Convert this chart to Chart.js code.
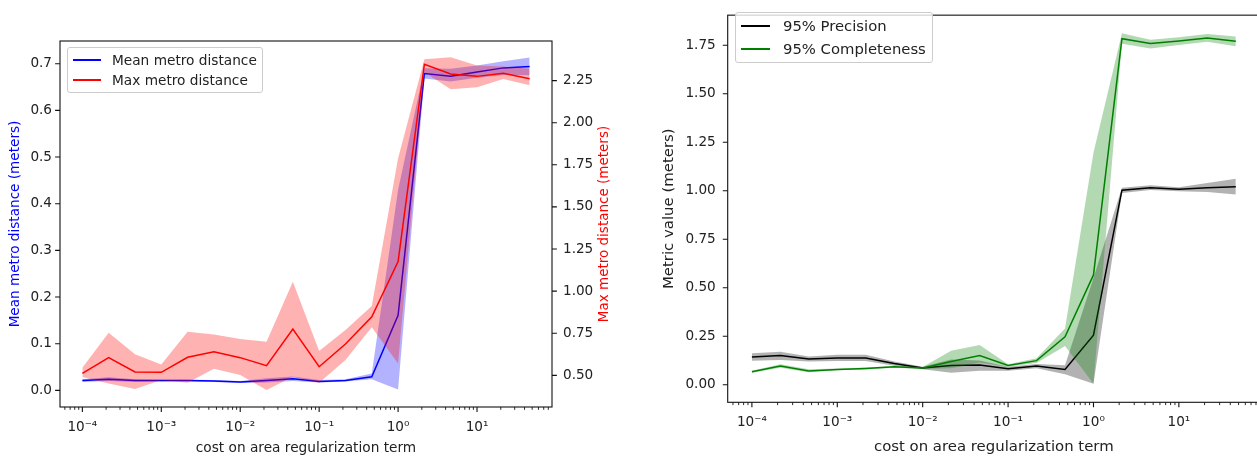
<!DOCTYPE html>
<html>
<head>
<meta charset="utf-8">
<script src="https://cdn.jsdelivr.net/npm/chart.js@4.4.1/dist/chart.umd.min.js"></script>
<style>
html, body { margin: 0; padding: 0; background: #fff; overflow: hidden; width: 1257px; height: 457px; }
canvas { position: absolute; top: 0; }
#leftChart { left: 0; }
#rightChart { left: 640px; }
.box { position: absolute; background: rgba(255,255,255,0.8); border: 1px solid #ccc; border-radius: 3px; box-sizing: border-box; }
.sw { position: absolute; height: 1.5px; }
.lab { position: absolute; white-space: nowrap; font-family: "DejaVu Sans"; color: #222; }
</style>
</head>
<body>
<canvas id="leftChart" width="640" height="457"></canvas>
<canvas id="rightChart" width="625" height="457"></canvas>

<div class="box" style="left:67px;top:47px;width:196px;height:46px"></div>
<div class="sw" style="left:73px;top:59px;width:28px;background:#0000ff"></div>
<div class="lab" style="left:112px;top:51px;font-size:13.7px;line-height:18px">Mean metro distance</div>
<div class="sw" style="left:73px;top:79px;width:28px;background:#ff0000"></div>
<div class="lab" style="left:112px;top:71px;font-size:13.7px;line-height:18px">Max metro distance</div>

<div class="box" style="left:735px;top:12px;width:198px;height:51px"></div>
<div class="sw" style="left:741px;top:25px;width:29px;background:#000000"></div>
<div class="lab" style="left:783px;top:16px;font-size:14.8px;line-height:19px">95% Precision</div>
<div class="sw" style="left:741px;top:48px;width:29px;background:#008000"></div>
<div class="lab" style="left:783px;top:39px;font-size:14.8px;line-height:19px">95% Completeness</div>

<script>
// x values: cost on area regularization term
const costs = [1e-4, 2.154e-4, 4.642e-4, 1e-3, 2.154e-3, 4.642e-3, 1e-2, 2.154e-2, 4.642e-2,
               0.1, 0.2154, 0.4642, 1, 2.154, 4.642, 10, 21.54, 46.42];

// left chart
const meanDist = [0.021, 0.024, 0.021, 0.021, 0.021, 0.020, 0.018, 0.021, 0.025, 0.019, 0.021, 0.029, 0.161, 0.679, 0.673, 0.682, 0.691, 0.694];
const meanLo   = [0.018, 0.020, 0.018, 0.019, 0.019, 0.018, 0.016, 0.017, 0.020, 0.017, 0.019, 0.024, 0.002, 0.668, 0.662, 0.670, 0.676, 0.675];
const meanHi   = [0.024, 0.028, 0.024, 0.023, 0.023, 0.022, 0.020, 0.026, 0.030, 0.022, 0.024, 0.036, 0.430, 0.690, 0.689, 0.696, 0.705, 0.713];
const maxDist  = [0.512, 0.605, 0.520, 0.518, 0.607, 0.640, 0.605, 0.557, 0.775, 0.551, 0.686, 0.848, 1.175, 2.347, 2.289, 2.275, 2.293, 2.261];
const maxLo    = [0.490, 0.452, 0.419, 0.472, 0.456, 0.539, 0.502, 0.413, 0.492, 0.456, 0.591, 0.785, 0.571, 2.300, 2.198, 2.210, 2.260, 2.222];
const maxHi    = [0.545, 0.753, 0.625, 0.565, 0.759, 0.743, 0.716, 0.700, 1.056, 0.644, 0.769, 0.911, 1.789, 2.377, 2.388, 2.340, 2.333, 2.320];

// right chart
const prec     = [0.143, 0.150, 0.133, 0.138, 0.138, 0.109, 0.086, 0.099, 0.101, 0.082, 0.096, 0.079, 0.255, 1.003, 1.016, 1.008, 1.016, 1.020];
const precLo   = [0.123, 0.128, 0.120, 0.122, 0.122, 0.098, 0.080, 0.062, 0.072, 0.072, 0.085, 0.054, 0.005, 0.988, 1.004, 0.998, 0.993, 0.981];
const precHi   = [0.162, 0.170, 0.146, 0.154, 0.154, 0.120, 0.092, 0.130, 0.125, 0.092, 0.107, 0.100, 0.550, 1.016, 1.028, 1.018, 1.040, 1.062];
const comp     = [0.067, 0.096, 0.071, 0.079, 0.084, 0.092, 0.086, 0.120, 0.151, 0.099, 0.124, 0.247, 0.566, 1.784, 1.759, 1.772, 1.788, 1.771];
const compLo   = [0.062, 0.088, 0.064, 0.074, 0.079, 0.087, 0.081, 0.085, 0.115, 0.092, 0.112, 0.200, 0.005, 1.758, 1.733, 1.752, 1.768, 1.745];
const compHi   = [0.072, 0.106, 0.080, 0.084, 0.089, 0.097, 0.091, 0.175, 0.205, 0.106, 0.136, 0.290, 1.196, 1.812, 1.778, 1.792, 1.808, 1.795];

// tick labels
const costTicks = [1e-4, 1e-3, 1e-2, 1e-1, 1, 10];
const meanTicks = [0, 0.1, 0.2, 0.3, 0.4, 0.5, 0.6, 0.7];
const maxTicks = [0.5, 0.75, 1.0, 1.25, 1.5, 1.75, 2.0, 2.25];
const metricTicks = [0, 0.25, 0.5, 0.75, 1.0, 1.25, 1.5, 1.75];

const FONT = 'DejaVu Sans';
const TXT = '#222';

const supMap = {'-': '\u207B', '0': '\u2070', '1': '\u00B9', '2': '\u00B2', '3': '\u00B3', '4': '\u2074',
                '5': '\u2075', '6': '\u2076', '7': '\u2077', '8': '\u2078', '9': '\u2079'};
function sci(v) {
    const e = Math.round(Math.log10(v));
    return '10' + String(e).split('').map(c => supMap[c]).join('');
}

const pts = (ys) => costs.map((c, i) => ({x: c, y: ys[i]}));
const hidden = (ys, axis, order) => ({data: pts(ys), yAxisID: axis, borderColor: 'transparent', borderWidth: 0, pointRadius: 0, fill: false, order: order});
const shade = (ys, axis, target, color, order) => ({data: pts(ys), yAxisID: axis, borderColor: 'transparent', borderWidth: 0, pointRadius: 0, fill: {target: target}, backgroundColor: color, order: order});
const line = (ys, axis, color, order) => ({data: pts(ys), yAxisID: axis, borderColor: color, borderWidth: 1.5, pointRadius: 0, fill: false, order: order});

// frame, tick marks and the red right-hand title (matplotlib style)
const frame = {
    id: 'frame',
    afterDatasetsDraw(chart, args, opts) {
        const ctx = chart.ctx;
        const a = chart.chartArea;
        const x = chart.scales.x;
        ctx.save();
        ctx.strokeStyle = '#111';

        ctx.lineWidth = 0.9;
        ctx.beginPath();
        for (let k = -6; k <= 2; k++) {
            for (let j = 2; j <= 9; j++) {
                const v = j * Math.pow(10, k);
                if (v < x.min || v > x.max) continue;
                const px = x.getPixelForValue(v);
                ctx.moveTo(px, a.bottom);
                ctx.lineTo(px, a.bottom + 2.8);
            }
        }
        ctx.stroke();

        ctx.lineWidth = 1.1;
        ctx.beginPath();
        costTicks.forEach(v => {
            const px = x.getPixelForValue(v);
            ctx.moveTo(px, a.bottom);
            ctx.lineTo(px, a.bottom + 4.9);
        });
        ['y', 'y2'].forEach(id => {
            const s = chart.scales[id];
            if (!s) return;
            s.ticks.forEach(t => {
                const py = s.getPixelForValue(t.value);
                if (s.position === 'left') { ctx.moveTo(a.left, py); ctx.lineTo(a.left - 4.9, py); }
                else { ctx.moveTo(a.right, py); ctx.lineTo(a.right + 4.9, py); }
            });
        });
        ctx.stroke();

        ctx.lineWidth = 1.1;
        ctx.strokeRect(a.left, a.top, a.right - a.left, a.bottom - a.top);

        if (opts.sideTitle) {
            const st = opts.sideTitle;
            ctx.translate(st.x, st.y);
            ctx.rotate(-Math.PI / 2);
            ctx.fillStyle = st.color;
            ctx.font = st.size + 'px "' + FONT + '"';
            ctx.textAlign = 'center';
            ctx.textBaseline = 'middle';
            ctx.fillText(st.text, 0, 0);
        }
        ctx.restore();
    }
};

function xScale(height, titleSize, titleBottom) {
    return {
        type: 'logarithmic',
        min: Math.pow(10, -4.2833),
        max: Math.pow(10, 1.95),
        afterBuildTicks: s => { s.ticks = costTicks.map(v => ({value: v})); },
        afterFit: s => { s.height = height; },
        ticks: {autoSkip: false, maxRotation: 0, padding: 7, color: TXT, font: {family: FONT, size: 13.6},
                callback: v => sci(v)},
        grid: {display: false, drawTicks: true, tickLength: 5},
        border: {display: false},
        title: {display: true, text: 'cost on area regularization term', color: TXT,
                font: {family: FONT, size: titleSize}, padding: {top: 0, bottom: titleBottom}}
    };
}

new Chart(document.getElementById('leftChart'), {
    type: 'line',
    data: {
        datasets: [
            hidden(meanLo, 'y', 6),
            shade(meanHi, 'y', 0, 'rgba(0,0,255,0.3)', 5),
            line(meanDist, 'y', '#0000ff', 4),
            hidden(maxLo, 'y2', 3),
            shade(maxHi, 'y2', 3, 'rgba(255,0,0,0.3)', 2),
            line(maxDist, 'y2', '#ff0000', 1)
        ]
    },
    options: {
        responsive: false,
        animation: false,
        events: [],
        layout: {padding: {top: 41, left: 0, right: 0, bottom: 0}},
        plugins: {
            legend: {display: false},
            tooltip: {enabled: false},
            frame: {sideTitle: {text: 'Max metro distance (meters)', color: '#ff0000', x: 604, y: 224, size: 13.5}}
        },
        scales: {
            x: xScale(50, 13.7, 0),
            y: {
                type: 'linear', position: 'left', min: -0.0356, max: 0.7486,
                afterBuildTicks: s => { s.ticks = meanTicks.map(v => ({value: v})); },
                afterFit: s => { s.width = 60; },
                ticks: {padding: 3, color: TXT, font: {family: FONT, size: 13.6}, callback: v => v.toFixed(1)},
                grid: {display: false, drawTicks: true, tickLength: 5},
                border: {display: false},
                title: {display: true, text: 'Mean metro distance (meters)', color: '#0000ff',
                        font: {family: FONT, size: 13.6}, padding: {top: 7, bottom: 0}}
            },
            y2: {
                type: 'linear', position: 'right', min: 0.312, max: 2.485,
                afterBuildTicks: s => { s.ticks = maxTicks.map(v => ({value: v})); },
                afterFit: s => { s.width = 88; },
                ticks: {padding: 6, color: TXT, font: {family: FONT, size: 13.6}, callback: v => v.toFixed(2)},
                grid: {display: false, drawTicks: true, tickLength: 5},
                border: {display: false}
            }
        }
    },
    plugins: [frame]
});

new Chart(document.getElementById('rightChart'), {
    type: 'line',
    data: {
        datasets: [
            hidden(precLo, 'y', 6),
            shade(precHi, 'y', 0, 'rgba(0,0,0,0.3)', 5),
            line(prec, 'y', '#000000', 4),
            hidden(compLo, 'y', 3),
            shade(compHi, 'y', 3, 'rgba(0,128,0,0.3)', 2),
            line(comp, 'y', '#008000', 1)
        ]
    },
    options: {
        responsive: false,
        animation: false,
        events: [],
        layout: {padding: {top: 6, left: 0, right: 5, bottom: 0}},
        plugins: {
            legend: {display: false},
            tooltip: {enabled: false},
            frame: {}
        },
        scales: {
            x: xScale(54.7, 14.9, 1.4),
            y: {
                type: 'linear', position: 'left', min: -0.0907, max: 1.9053,
                afterBuildTicks: s => { s.ticks = metricTicks.map(v => ({value: v})); },
                afterFit: s => { s.width = 87.7; },
                ticks: {padding: 7, color: TXT, font: {family: FONT, size: 13.6}, callback: v => v.toFixed(2)},
                grid: {display: false, drawTicks: true, tickLength: 5},
                border: {display: false},
                title: {display: true, text: 'Metric value (meters)', color: TXT,
                        font: {family: FONT, size: 14.9}, padding: {top: 20, bottom: 0}}
            }
        }
    },
    plugins: [frame]
});
</script>
</body>
</html>
